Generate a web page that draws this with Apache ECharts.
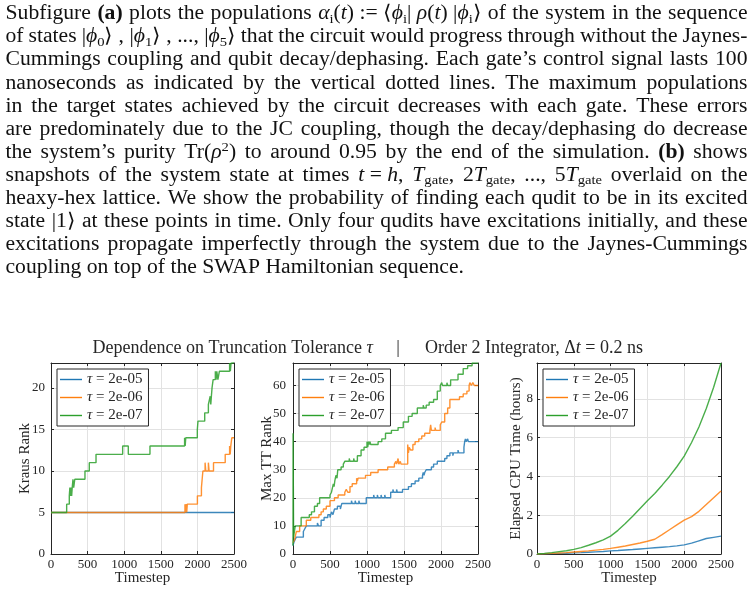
<!DOCTYPE html>
<html>
<head>
<meta charset="utf-8">
<script src="https://cdn.jsdelivr.net/npm/echarts@6/dist/echarts.min.js"></script>
<style>
    html, body {margin: 0; padding: 0; background: #fff;}
    #main {width: 750px; height: 594px;}
</style>
</head>
<body>
<div id="main"></div>
<script>
// ---- data ----
var tauNames = ['2e-05', '2e-06', '2e-07'];
var lineColors = ['#1f77b4', '#ff7f0e', '#2ca02c'];

// Kraus rank (step changes: timestep, new value)
var krausT1 = [0, 2500];
var krausV1 = [5, 5];
var krausT2 = [0, 1830, 1838, 1846, 1854, 1862, 2000, 2055, 2065, 2075, 2105, 2115, 2150, 2160, 2220, 2380, 2440, 2448, 2456, 2470, 2500];
var krausV2 = [5, 6, 5, 6, 5, 6, 7, 8, 9, 10, 11, 10, 11, 10, 11, 12, 13, 12, 13, 14, 14];
var krausT3 = [0, 214, 250, 258, 266, 274, 282, 290, 300, 310, 325, 464, 523, 615, 979, 1056, 1352, 1825, 1833, 1841, 1850, 1999, 2008, 2100, 2150, 2175, 2183, 2191, 2200, 2215, 2245, 2255, 2265, 2280, 2300, 2440, 2450, 2460, 2470, 2490, 2500];
var krausV3 = [5, 6, 7, 8, 7, 8, 7, 8, 9, 8, 9, 10, 11, 12, 13, 12, 13, 14, 13, 14, 14, 15, 16, 17, 18, 19, 18, 19, 20, 21, 22, 21, 22, 21, 22, 23, 22, 23, 23, 24, 24];

// Max TT rank
var ttT1 = [0, 10, 25, 45, 140, 160, 180, 330, 345, 380, 420, 470, 500, 520, 540, 560, 600, 640, 660, 790, 800, 840, 850, 890, 900, 990, 1090, 1100, 1140, 1150, 1190, 1200, 1240, 1250, 1320, 1350, 1360, 1400, 1410, 1480, 1560, 1600, 1650, 1700, 1750, 1760, 1770, 1780, 1800, 1870, 1900, 1950, 2050, 2080, 2120, 2160, 2170, 2230, 2240, 2310, 2320, 2330, 2340, 2360, 2370, 2500];
var ttV1 = [3, 4, 5, 6, 8, 9, 10, 11, 10, 12, 13, 14, 13, 15, 14, 16, 17, 16, 18, 19, 18, 19, 18, 19, 18, 20, 21, 20, 21, 20, 21, 20, 21, 20, 22, 23, 22, 23, 22, 23, 24, 25, 26, 27, 28, 29, 28, 29, 30, 31, 32, 33, 34, 35, 36, 35, 36, 37, 36, 38, 40, 41, 40, 41, 40, 40];
var ttT2 = [0, 20, 45, 90, 180, 240, 350, 380, 410, 450, 500, 560, 610, 700, 720, 740, 770, 800, 860, 870, 880, 980, 1050, 1150, 1280, 1370, 1390, 1400, 1420, 1430, 1450, 1460, 1550, 1560, 1570, 1590, 1620, 1650, 1700, 1740, 1780, 1850, 1860, 1870, 1920, 1930, 1990, 2010, 2050, 2090, 2120, 2250, 2300, 2350, 2380, 2390, 2410, 2430, 2450, 2500];
var ttV2 = [4, 5, 8, 10, 12, 13, 14, 15, 16, 17, 19, 20, 21, 22, 23, 22, 24, 25, 27, 26, 27, 28, 29, 30, 31, 32, 33, 32, 34, 32, 33, 32, 39, 36, 38, 37, 39, 40, 41, 42, 43, 44, 46, 44, 45, 44, 46, 47, 50, 52, 55, 56, 57, 58, 60, 61, 60, 61, 60, 60];
var ttT3 = [0, 1, 8, 30, 110, 220, 250, 290, 330, 360, 500, 520, 545, 555, 565, 580, 595, 605, 650, 680, 700, 760, 770, 820, 830, 870, 920, 960, 1000, 1010, 1020, 1030, 1040, 1050, 1150, 1200, 1250, 1330, 1420, 1490, 1560, 1610, 1680, 1760, 1770, 1800, 1840, 1900, 1950, 1990, 2010, 2020, 2080, 2090, 2130, 2230, 2300, 2360, 2420, 2500];
var ttV3 = [3, 43, 6, 10, 13, 14, 15, 17, 18, 20, 21, 22, 25, 24, 26, 28, 27, 30, 31, 32, 33, 34, 33, 34, 33, 35, 37, 38, 40, 38, 40, 39, 40, 39, 40, 41, 43, 44, 45, 47, 49, 50, 52, 53, 52, 53, 54, 55, 58, 60, 61, 60, 61, 60, 62, 64, 66, 67, 68, 68];

// Elapsed CPU time (hours), sampled every 100 timesteps
var cpuT = [0, 100, 200, 300, 400, 500, 600, 700, 800, 900, 1000, 1100, 1200, 1300, 1400, 1500, 1600, 1700, 1800, 1900, 2000, 2100, 2200, 2300, 2400, 2500];
var cpuV1 = [0, 0.01, 0.02, 0.03, 0.04, 0.06, 0.07, 0.09, 0.11, 0.13, 0.16, 0.18, 0.21, 0.23, 0.26, 0.29, 0.32, 0.35, 0.38, 0.42, 0.47, 0.56, 0.68, 0.80, 0.86, 0.92];
var cpuV2 = [0, 0.01, 0.03, 0.05, 0.07, 0.10, 0.13, 0.16, 0.20, 0.24, 0.29, 0.35, 0.41, 0.49, 0.57, 0.66, 0.76, 1.00, 1.25, 1.50, 1.75, 1.93, 2.20, 2.55, 2.90, 3.25];
var cpuV3 = [0, 0.03, 0.07, 0.12, 0.17, 0.24, 0.33, 0.45, 0.58, 0.73, 0.92, 1.22, 1.57, 1.95, 2.35, 2.75, 3.12, 3.55, 4.00, 4.50, 5.05, 5.75, 6.55, 7.50, 8.60, 9.85];

// paragraph above the figure ({i|..} italic, {b|..} bold, {s|..} sub, {p|..} sup, ~ = fixed space)
var paraLines = [
    'Subfigure {b|(a)} plots the populations {i|α}{s|i}({i|t})~:=~⟨{i|ϕ}{s|i}|~{i|ρ}({i|t})~|{i|ϕ}{s|i}⟩ of the system in the sequence',
    'of states |{i|ϕ}{s|0}⟩~,~|{i|ϕ}{s|1}⟩~,~...,~|{i|ϕ}{s|5}⟩ that the circuit would progress through without the Jaynes-',
    'Cummings coupling and qubit decay/dephasing. Each gate’s control signal lasts 100',
    'nanoseconds as indicated by the vertical dotted lines. The maximum populations',
    'in the target states achieved by the circuit decreases with each gate. These errors',
    'are predominately due to the JC coupling, though the decay/dephasing do decrease',
    'the system’s purity Tr({i|ρ}{p|2}) to around 0.95 by the end of the simulation. {b|(b)} shows',
    'snapshots of the system state at times {i|t}~=~{i|h}, {i|T}{s|gate}, 2{i|T}{s|gate}, ..., 5{i|T}{s|gate} overlaid on the',
    'heaxy-hex lattice. We show the probability of finding each qudit to be in its excited',
    'state |1⟩ at these points in time. Only four qudits have excitations initially, and these',
    'excitations propagate imperfectly through the system due to the Jaynes-Cummings',
    'coupling on top of the SWAP Hamiltonian sequence.'
];

var FONT = 'Liberation Serif';
var INK = '#262626';
var GRIDC = '#e2e2e2';

// ---- paragraph layout (justified, word by word) ----
var PARA_SIZE = 20;
var PARA_LEFT = 5.5, PARA_RIGHT = 747.5, LAST_END = 464;
var PARA_Y0 = 14, PARA_STEP = 23.1;
var paraRich = {
    n: {fontFamily: FONT, fontSize: PARA_SIZE, lineHeight: 24},
    i: {fontFamily: FONT, fontSize: PARA_SIZE, lineHeight: 24, fontStyle: 'italic'},
    b: {fontFamily: FONT, fontSize: PARA_SIZE, lineHeight: 24, fontWeight: 'bold'},
    s: {fontFamily: FONT, fontSize: 13.5, lineHeight: 12, verticalAlign: 'bottom'},
    p: {fontFamily: FONT, fontSize: 13.5, lineHeight: 12, verticalAlign: 'top'}
};
var ctx = document.createElement('canvas').getContext('2d');

function segFont(key) {
    var st = paraRich[key];
    return (st.fontStyle || 'normal') + ' ' + (st.fontWeight || 'normal') + ' ' + st.fontSize + 'px "' + FONT + '"';
}

function buildWord(word) {
    var re = /\{(\w)\|([^}]*)\}|([^{]+)/g, m, rich = '', width = 0;
    while ((m = re.exec(word))) {
        var key = m[1] || 'n';
        var txt = (m[1] ? m[2] : m[3]).replace(/~/g, ' ');
        ctx.font = segFont(key);
        width += ctx.measureText(txt).width;
        rich += '{' + key + '|' + txt + '}';
    }
    return {rich: rich, width: width};
}

function paragraphElements() {
    var els = [];
    ctx.font = segFont('n');
    var spaceW = ctx.measureText(' ').width;
    var lastWords = paraLines[paraLines.length - 1].split(' ').map(buildWord);
    var lastNat = lastWords.reduce(function (a, w) { return a + w.width; }, 0) + spaceW * (lastWords.length - 1);
    var k = (LAST_END - PARA_LEFT) / lastNat;   // horizontal stretch to match the original font width
    paraLines.forEach(function (line, li) {
        var words = line.split(' ').filter(Boolean).map(buildWord);
        var total = words.reduce(function (a, w) { return a + w.width * k; }, 0);
        var isLast = li === paraLines.length - 1;
        var gap = isLast ? spaceW * k : (PARA_RIGHT - PARA_LEFT - total) / (words.length - 1);
        var x = PARA_LEFT;
        words.forEach(function (w) {
            els.push({
                type: 'text', x: x, y: PARA_Y0 + li * PARA_STEP, scaleX: k, silent: true,
                style: {text: w.rich, rich: paraRich, fill: '#111', align: 'left', verticalAlign: 'middle',
                    fontFamily: FONT, fontSize: PARA_SIZE}
            });
            x += w.width * k + gap;
        });
    });
    return els;
}

function titleElements() {
    var rich = {i: {fontStyle: 'italic', fontFamily: FONT, fontSize: 18}};
    var base = {fill: INK, fontFamily: FONT, fontSize: 18, verticalAlign: 'middle', rich: rich};
    return [
        {type: 'text', x: 373, y: 348, style: Object.assign({}, base, {text: 'Dependence on Truncation Tolerance {i|τ}', align: 'right'})},
        {type: 'text', x: 398, y: 348, style: Object.assign({}, base, {text: '|', align: 'center'})},
        {type: 'text', x: 425, y: 348, style: Object.assign({}, base, {text: 'Order 2 Integrator, Δ{i|t} = 0.2 ns', align: 'left'})}
    ];
}

// ---- axes ----
var plots = [
    {left: 51, width: 183, yMax: 23, yStep: 5, yName: 'Kraus Rank', nameGap: 18, labelMargin: 6},
    {left: 293, width: 185, yMax: 68, yStep: 10, yName: 'Max TT Rank', nameGap: 18.5, labelMargin: 7},
    {left: 537, width: 184, yMax: 9.85, yStep: 2, yName: 'Elapsed CPU Time (hours)', nameGap: 13, labelMargin: 4}
];

// thin horizontal bar inside a 20x14 box, used as the legend line sample
var legendLine = 'path://M0,0 L0,0 M0,6.3 L20,6.3 L20,7.7 L0,7.7 Z M20,14 L20,14';

var grids = [], xAxes = [], yAxes = [], legends = [], series = [];

plots.forEach(function (p, i) {
    grids.push({left: p.left, top: 363, width: p.width, height: 191});
    var tick = {show: true, inside: true, length: 3, lineStyle: {color: INK, width: 1}};
    var line = {show: true, onZero: false, lineStyle: {color: INK, width: 1}};
    xAxes.push({
        type: 'value', gridIndex: i, position: 'bottom', min: 0, max: 2500, interval: 500,
        name: 'Timestep', nameLocation: 'middle', nameGap: 17, nameMoveOverlap: false,
        nameTextStyle: {fontFamily: FONT, fontSize: 15, color: INK},
        axisLine: line, axisTick: tick,
        axisLabel: {fontFamily: FONT, fontSize: 13, color: INK, margin: 4,
            formatter: function (v) { return String(v); }},
        splitLine: {show: true, lineStyle: {color: GRIDC, width: 1}}
    });
    xAxes.push({
        type: 'value', gridIndex: i, position: 'top', min: 0, max: 2500, interval: 500,
        axisLine: line, axisTick: tick, axisLabel: {show: false}, splitLine: {show: false}
    });
    yAxes.push({
        type: 'value', gridIndex: i, position: 'left', min: 0, max: p.yMax, interval: p.yStep,
        name: p.yName, nameLocation: 'middle', nameGap: p.nameGap, nameMoveOverlap: false,
        nameTextStyle: {fontFamily: FONT, fontSize: 15, color: INK},
        axisLine: line, axisTick: tick,
        axisLabel: {
            fontFamily: FONT, fontSize: 13, color: INK, margin: p.labelMargin,
            formatter: function (v) { return Math.abs(v / p.yStep - Math.round(v / p.yStep)) < 1e-9 ? String(v) : ''; }
        },
        splitLine: {show: true, lineStyle: {color: GRIDC, width: 1}}
    });
    yAxes.push({
        type: 'value', gridIndex: i, position: 'right', min: 0, max: p.yMax, interval: p.yStep,
        axisLine: line, axisTick: tick, axisLabel: {show: false}, splitLine: {show: false}
    });
    legends.push({
        orient: 'vertical', left: p.left + 6, top: 369,
        icon: legendLine, symbolKeepAspect: false,
        itemWidth: 22, itemHeight: 14, itemGap: 3, padding: [3, 6, 3, 3],
        borderColor: INK, borderWidth: 1, backgroundColor: '#fff',
        selectedMode: false, data: tauNames,
        formatter: function (n) { return '{i|τ} = ' + n; },
        textStyle: {fontFamily: FONT, fontSize: 15, color: INK,
            rich: {i: {fontFamily: FONT, fontSize: 15, fontStyle: 'italic', color: INK}}}
    });
});

function pairs(ts, vs) {
    return ts.map(function (t, k) { return [t, vs[k]]; });
}

var seriesData = [
    [pairs(krausT1, krausV1), pairs(krausT2, krausV2), pairs(krausT3, krausV3)],
    [pairs(ttT1, ttV1), pairs(ttT2, ttV2), pairs(ttT3, ttV3)],
    [pairs(cpuT, cpuV1), pairs(cpuT, cpuV2), pairs(cpuT, cpuV3)]
];

seriesData.forEach(function (group, i) {
    group.forEach(function (d, j) {
        series.push({
            name: tauNames[j], type: 'line', xAxisIndex: 2 * i, yAxisIndex: 2 * i,
            step: i < 2 ? 'end' : false, symbol: 'none', data: d,
            color: lineColors[j],
            itemStyle: {color: lineColors[j]},
            lineStyle: {color: lineColors[j], width: 1.4, opacity: 0.85},
            emphasis: {disabled: true}
        });
    });
});

var myChart = echarts.init(document.getElementById('main'));
var option = {
    animation: false,
    backgroundColor: '#fff',
    grid: grids,
    xAxis: xAxes,
    yAxis: yAxes,
    legend: legends,
    graphic: {elements: paragraphElements().concat(titleElements())},
    series: series
};
myChart.setOption(option);
</script>
</body>
</html>
